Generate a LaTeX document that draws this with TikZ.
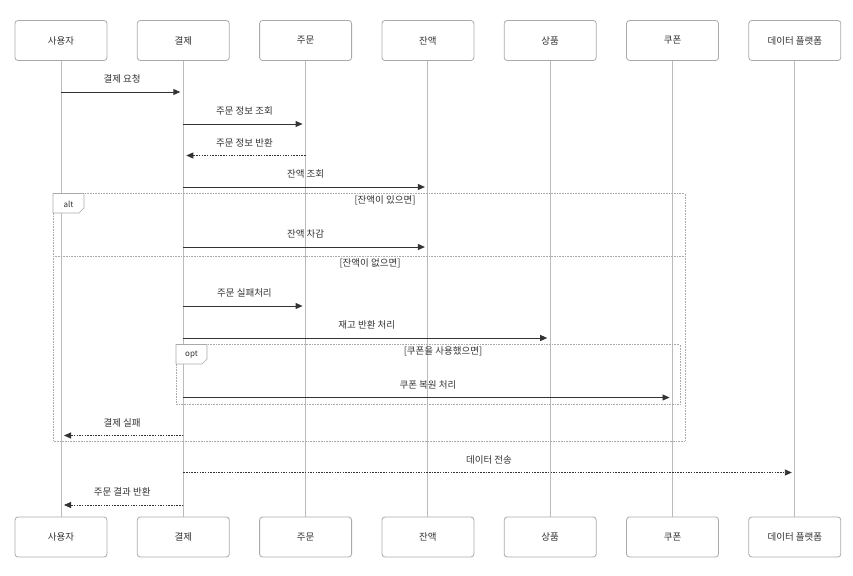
\documentclass[tikz,border=0pt]{standalone}
\usepackage{fontspec}
\setmainfont{Noto Sans CJK KR}
\usetikzlibrary{arrows.meta}
\usetikzlibrary{positioning}
\definecolor{boxgray}{HTML}{AAAAAA}
\definecolor{lifegray}{HTML}{BBBBBB}
\definecolor{framegray}{HTML}{AAAAAA}
\definecolor{inkdark}{HTML}{333333}

\begin{document}
\begin{tikzpicture}[x=1pt, y=-1pt, font=\fontsize{9.5}{11}\selectfont, text=inkdark,
    actor/.style={draw=boxgray, line width=0.8pt, rounded corners=3pt, fill=white,
        minimum width=92pt, minimum height=40pt},
    life/.style={draw=lifegray, line width=1pt},
    msg/.style={draw=inkdark, line width=0.9pt, -{Triangle[length=7pt,width=6pt]}, shorten >=3pt},
    reply/.style={msg, dash pattern=on 1.5pt off 1.2pt},
    lbl/.style={above=7pt, inner sep=1pt},
    frame/.style={draw=framegray, line width=0.6pt, densely dotted},
    tagbox/.style={draw=framegray, line width=0.6pt, fill=white},
    guard/.style={inner sep=1pt}]
        \useasboundingbox (0,0) rectangle (853,575);
        % Participants and lifelines
        \foreach \i/\who in {1/사용자, 2/결제, 3/주문, 4/잔액, 5/상품, 6/쿠폰, 7/데이터 플랫폼} {
            \node[actor] (top\i) at ({61+122.3*(\i-1)}, 40.5) {\who};
            \node[actor] (bot\i) at ({61+122.3*(\i-1)}, 537) {\who};
            \draw[life] (top\i) -- (bot\i);
        }
        % Messages before alt
        \draw[msg] (top1 |- 0,92) -- (top2 |- 0,92) node[lbl, midway] (m1) {결제 요청};
        \draw[msg] (top2 |- 0,124) -- (top3 |- 0,124) node[lbl, midway] (m2) {주문 정보 조회};
        \draw[reply] (top3 |- 0,155.5) -- (top2 |- 0,155.5) node[lbl, midway] (m3) {주문 정보 반환};
        \draw[msg] (top2 |- 0,187) -- (top4 |- 0,187) node[lbl, midway] (m4) {잔액 조회};
        % alt frame
        \draw[frame] (53,193.5) rectangle (685,441);
        \draw[tagbox] (53,193.5) -- (84,193.5) -- (84,208) -- (79,213) -- (53,213) -- cycle;
        \node (alttag) at (68.5,204) {\fontsize{8}{10}\selectfont alt};
        \node[guard] (g1) at (385,200) {[잔액이 있으면]};
        \draw[msg] (top2 |- 0,247) -- (top4 |- 0,247) node[lbl, midway] (m5) {잔액 차감};
        \draw[frame] (53,256) -- (685,256);
        \node[guard] (g2) at (370,263.5) {[잔액이 없으면]};
        \draw[msg] (top2 |- 0,306) -- (top3 |- 0,306) node[lbl, midway] (m6) {주문 실패처리};
        \draw[msg] (top2 |- 0,338) -- (top5 |- 0,338) node[lbl, midway] (m7) {재고 반환 처리};
        % opt frame
        \draw[frame] (176,344.5) rectangle (680,404);
        \draw[tagbox] (176,344.5) -- (207,344.5) -- (207,359) -- (202,364) -- (176,364) -- cycle;
        \node (opttag) at (191.5,355) {\fontsize{8}{10}\selectfont opt};
        \node[guard] (g3) at (443,351.5) {[쿠폰을 사용했으면]};
        \draw[msg] (top2 |- 0,397.5) -- (top6 |- 0,397.5) node[lbl, midway] (m8) {쿠폰 복원 처리};
        \draw[reply] (top2 |- 0,435.5) -- (top1 |- 0,435.5) node[lbl, midway] (m9) {결제 실패};
        % Messages after alt
        \draw[reply] (top2 |- 0,472.5) -- (top7 |- 0,472.5) node[lbl, midway] (m10) {데이터 전송};
        \draw[reply] (top2 |- 0,505) -- (top1 |- 0,505) node[lbl, midway] (m11) {주문 결과 반환};
    \end{tikzpicture}
\end{document}
